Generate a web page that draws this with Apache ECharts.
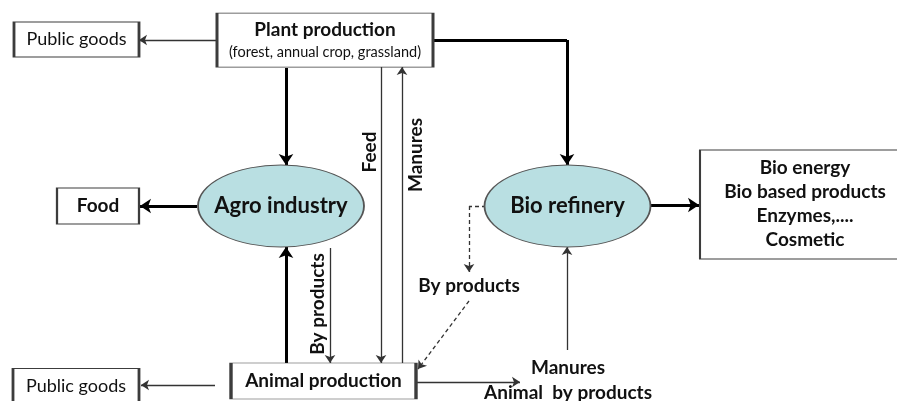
<!DOCTYPE html>
<html>
<head>
<meta charset="utf-8">
<script src="https://cdn.jsdelivr.net/npm/echarts@6/dist/echarts.min.js"></script>
<style>
  html, body { margin: 0; padding: 0; background: #fff; }
  #main { width: 897px; height: 401px; }
</style>
</head>
<body>
<div id="main"></div>
<script>
// rectangle nodes: name, centre (x, y) in page units
const boxNames = ['Public goods', 'Plant production', 'Food', 'Animal production', 'Public goods', 'Bio products'];
const boxCenters = [[76.5, 39.5], [325, 40], [98, 206], [323.5, 381], [76, 386.5], [806, 204.5]];
const boxSizes = [[125, 35], [216, 54], [82, 36], [185, 36], [126, 36], [212, 109]];

// ellipse nodes
const ovalNames = ['Agro industry', 'Bio refinery'];
const ovalCenters = [[281, 206], [567.5, 206]];

// flows (polyline points), thick ones and thin ones
const thickFlows = [
  [[286, 68], [286, 165]],               // plant -> agro
  [[433, 40], [567, 40], [567, 165]],    // plant -> bio refinery
  [[197, 206], [140, 206]],              // agro -> food
  [[286, 363], [286, 247]],              // animal -> agro
  [[649, 205], [699, 205]]               // bio refinery -> bio products
];
const thinFlows = [
  [[217, 40], [139, 40]],                // plant -> public goods
  [[381, 67], [381, 363]],               // feed
  [[402, 363], [402, 67]],               // manures
  [[330, 248], [330, 363]],              // agro by products -> animal
  [[215, 385], [141, 385]],              // animal -> public goods
  [[416, 382], [520, 382]],              // animal -> manures
  [[567, 350], [567, 247]]               // manures -> bio refinery
];
const dashedFlows = [
  [[486, 206], [469, 206], [469, 272]],
  [[469, 301], [418, 369]]
];

// free text
const textNames = ['Feed', 'Manures', 'By products', 'By products', 'Manures', 'Animal  by products'];
const textCenters = [[370, 152], [416, 155], [318, 304], [469, 286], [568, 368], [568, 393]];
const textRotate = [90, 90, 90, 0, 0, 0];

const FONT = 'Lato';
const INK = '#111';

const boxLabel = [
  { formatter: 'Public goods', fontWeight: 'normal', fontSize: 18 },
  { formatter: '{a|Plant production}\n{b|(forest, annual crop, grassland)}',
    rich: { a: { fontWeight: 'bold', fontSize: 19, lineHeight: 24, fontFamily: FONT, color: INK },
            b: { fontSize: 14.5, lineHeight: 20, fontFamily: FONT, color: INK } } },
  { formatter: 'Food', fontWeight: 'bold', fontSize: 19 },
  { formatter: 'Animal production', fontWeight: 'bold', fontSize: 19 },
  { formatter: 'Public goods', fontWeight: 'normal', fontSize: 18 },
  { formatter: 'Bio energy\nBio based products\nEnzymes,....\nCosmetic', fontWeight: 'bold', fontSize: 19,
    lineHeight: 24, offset: [-1, -1] }
];

// split polylines into straight pieces; only the last piece carries the arrow head
function lead(flows) {
  const out = [];
  flows.forEach(f => { for (let i = 0; i < f.length - 2; i++) out.push({ coords: [f[i], f[i + 1]] }); });
  return out;
}
function tips(flows) {
  return flows.map(f => ({ coords: [f[f.length - 2], f[f.length - 1]] }));
}

function flowSeries(data, arrow, size, style) {
  return {
    type: 'lines', coordinateSystem: 'cartesian2d', z: 2,
    symbol: arrow ? ['none', 'arrow'] : ['none', 'none'], symbolSize: size,
    lineStyle: Object.assign({ opacity: 1 }, style),
    data: data
  };
}

const thick = { color: '#000', width: 3 };
const thin = { color: '#333', width: 1.3 };
const dashed = { color: '#333', width: 1.3, type: [4, 3] };

const chart = echarts.init(document.getElementById('main'));
const option = {
  animation: false,
  backgroundColor: '#fff',
  grid: { left: 0, right: 0, top: 0, bottom: 0 },
  xAxis: { type: 'value', min: 0, max: 897, show: false },
  yAxis: { type: 'value', min: 0, max: 401, inverse: true, show: false },
  series: [
    flowSeries(lead(thickFlows), false, 0, thick),
    flowSeries(tips(thickFlows), true, 11, thick),
    flowSeries(lead(thinFlows), false, 0, thin),
    flowSeries(tips(thinFlows), true, 8, thin),
    flowSeries(lead(dashedFlows), false, 0, dashed),
    flowSeries(tips(dashedFlows), true, 8, dashed),
    {
      type: 'scatter', z: 3, symbol: 'rect',
      itemStyle: { color: '#fff', borderColor: '#3c3c3c', borderWidth: 1.5, opacity: 1 },
      label: { show: true, position: 'inside', color: INK, fontFamily: FONT, align: 'center' },
      data: boxNames.map((n, i) => ({
        name: n, value: boxCenters[i], symbolSize: boxSizes[i],
        label: Object.assign({ show: true, fontFamily: FONT, color: INK }, boxLabel[i])
      }))
    },
    {
      type: 'scatter', z: 3, symbol: 'circle',
      itemStyle: { color: '#b9dfe2', borderColor: '#555', borderWidth: 1.3, opacity: 1 },
      label: { show: true, position: 'inside', color: INK, fontFamily: FONT, fontWeight: 'bold', fontSize: 22,
               formatter: '{b}' },
      data: ovalNames.map((n, i) => ({ name: n, value: ovalCenters[i], symbolSize: [166, 82] }))
    },
    {
      type: 'scatter', z: 4, symbolSize: 0,
      itemStyle: { opacity: 1 },
      label: { show: true, position: 'inside', color: INK, fontFamily: FONT, fontWeight: 'bold', fontSize: 19,
               formatter: '{b}' },
      data: textNames.map((n, i) => ({ name: n, value: textCenters[i], label: { rotate: textRotate[i] } }))
    }
  ]
};
chart.setOption(option);
</script>
</body>
</html>
